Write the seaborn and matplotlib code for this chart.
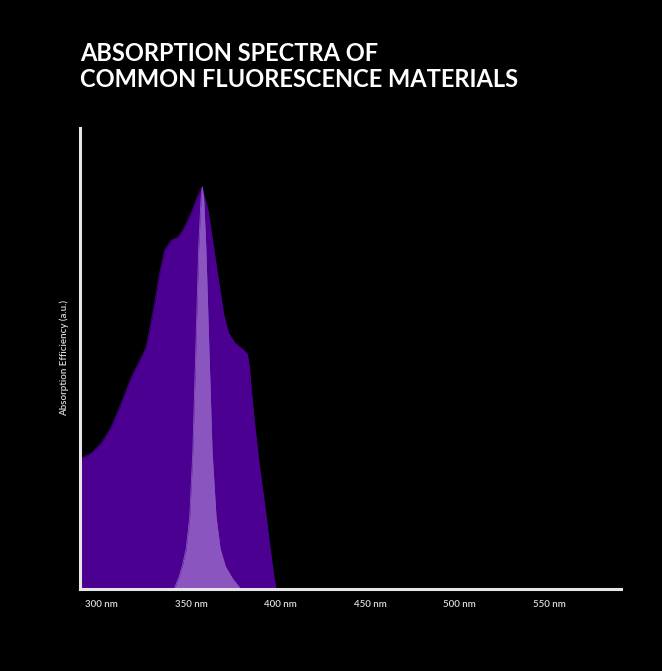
import matplotlib
matplotlib.use("Agg")
import matplotlib.pyplot as plt
import seaborn as sns
import pandas as pd

# broad absorption band (dark purple)
band_nm = [297.2, 303.5, 309.1, 314.7, 320.3, 325.9, 331.5, 334.2, 336.1, 338.9,
           341.7, 344.5, 348.2, 352.0, 355.0, 357.5, 360.2, 362.6, 365.4, 368.9,
           371.7, 374.5, 377.3, 380.1, 383.8, 388.4, 390.6, 391.6, 392.8, 394.5,
           397.0, 400.6, 403.4, 405.5, 406.7]
band_abs = [0.323, 0.338, 0.363, 0.403, 0.463, 0.527, 0.577, 0.602, 0.644, 0.711,
            0.786, 0.843, 0.868, 0.876, 0.895, 0.918, 0.945, 0.975, 1.0, 0.938,
            0.853, 0.769, 0.687, 0.637, 0.612, 0.595, 0.585, 0.560, 0.500, 0.420,
            0.320, 0.200, 0.100, 0.030, 0.0]

# narrow emission peak (light purple)
peak_nm = [349.8, 352.5, 354.5, 356.5, 358.5, 360.2, 361.9, 363.5, 364.8, 365.5,
           366.3, 367.5, 369.2, 371.0, 373.2, 375.5, 378.5, 382.5, 387.0]
peak_abs = [0.0, 0.030, 0.060, 0.100, 0.180, 0.340, 0.600, 0.850, 0.970, 1.0,
            0.970, 0.850, 0.600, 0.340, 0.180, 0.100, 0.055, 0.025, 0.0]

tick_nm = [300, 350, 400, 450, 500, 550]
tick_labels = ["300 nm", "350 nm", "400 nm", "450 nm", "500 nm", "550 nm"]

dark = "#4b0091"
light = "#8a55bf"
axis_col = "#e6e6e6"

sns.set_theme(style="white")
plt.rcParams["font.family"] = ["Lato", "DejaVu Sans"]

band = pd.DataFrame({"nm": band_nm, "abs": band_abs})
peak = pd.DataFrame({"nm": peak_nm, "abs": peak_abs})

fig = plt.figure(figsize=(6.62, 6.71), dpi=100, facecolor="black")
ax = fig.add_axes([80 / 662, 82 / 671, 541 / 662, 461 / 671])
ax.set_facecolor("black")

sns.lineplot(data=band, x="nm", y="abs", color=dark, lw=0.6, ax=ax)
ax.fill_between(band["nm"], band["abs"], color=dark, lw=0)
sns.lineplot(data=peak, x="nm", y="abs", color=light, lw=0.6, ax=ax)
ax.fill_between(peak["nm"], peak["abs"], color=light, lw=0)

ax.set_xlim(297.2, 599.4)
ax.set_ylim(0, 1.147)

for side in ["top", "right"]:
    ax.spines[side].set_visible(False)
for side in ["left", "bottom"]:
    ax.spines[side].set_color(axis_col)
    ax.spines[side].set_linewidth(2.2)
    ax.spines[side].set_zorder(5)

ax.set_xticks(tick_nm)
ax.set_xticklabels(tick_labels, ha="left", fontweight="semibold")
ax.tick_params(axis="x", colors="#dddddd", labelsize=7, length=0, pad=8)
ax.set_yticks([])
ax.set_xlabel("")
ax.set_ylabel("Absorption Efficiency (a.u.)", color="#dddddd", fontsize=7,
              fontweight="semibold", labelpad=8)

fig.text(80 / 662, 1 - 42 / 671, "ABSORPTION SPECTRA OF\nCOMMON FLUORESCENCE MATERIALS",
         color="white", fontsize=17, fontweight="bold", ha="left", va="top",
         linespacing=1.15)

fig.savefig("out.png", dpi=100, facecolor="black")
